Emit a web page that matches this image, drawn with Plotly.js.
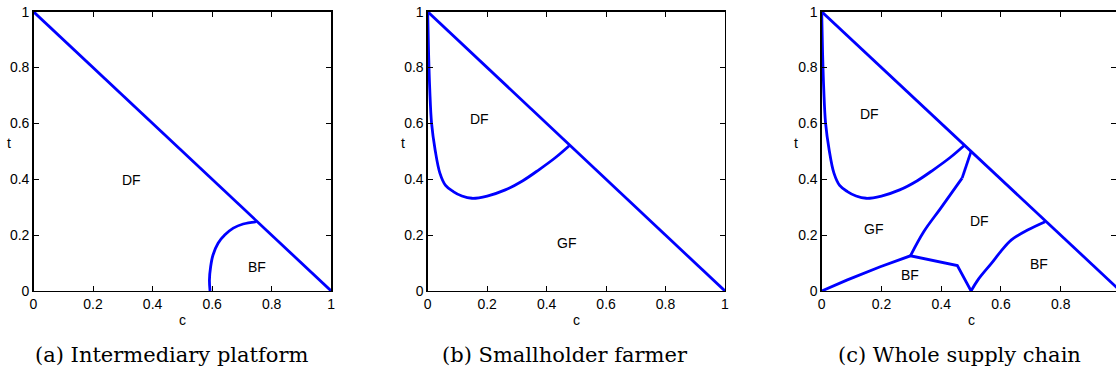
<!DOCTYPE html>
<html>
<head>
<meta charset="utf-8">
<script src="https://cdn.plot.ly/plotly-3.0.1.min.js"></script>
<style>
html,body{margin:0;padding:0;background:#fff;overflow:hidden;}
#chart{width:1116px;height:372px;}
</style>
</head>
<body>
<div id="chart"></div>
<script>
// ---- data ----
const diagC = [0, 1];
const diagT = [1, 0];

// (a) Intermediary platform: BF boundary
const aBfC = [0.593, 0.591, 0.595, 0.603, 0.620, 0.643, 0.671, 0.704, 0.749];
const aBfT = [0.000, 0.039, 0.087, 0.129, 0.171, 0.201, 0.225, 0.240, 0.248];

// (b) Smallholder farmer: DF / GF boundary
const bC = [0.000, 0.003, 0.007, 0.013, 0.025, 0.041, 0.060, 0.086, 0.115, 0.149, 0.200, 0.261, 0.320, 0.374, 0.430, 0.478];
const bT = [1.000, 0.850, 0.720, 0.601, 0.505, 0.422, 0.378, 0.356, 0.340, 0.332, 0.340, 0.362, 0.395, 0.434, 0.478, 0.522];

// (c) Whole supply chain
const cUpC = bC;
const cUpT = bT;
const cSegC = [0.500, 0.470];
const cSegT = [0.500, 0.404];
const cMidC = [0.470, 0.398, 0.342, 0.297];
const cMidT = [0.404, 0.296, 0.213, 0.126];
const cLowC = [0.000, 0.084, 0.196, 0.297, 0.454, 0.500];
const cLowT = [0.000, 0.039, 0.087, 0.126, 0.091, 0.000];
const cBfC = [0.500, 0.523, 0.568, 0.599, 0.635, 0.691, 0.748];
const cBfT = [0.000, 0.040, 0.099, 0.141, 0.183, 0.219, 0.248];

// region labels
const aLabels = ['DF', 'BF'];
const aLabC = [0.329, 0.750];
const aLabT = [0.398, 0.087];
const bLabels = ['DF', 'GF'];
const bLabC = [0.174, 0.466];
const bLabT = [0.615, 0.171];
const cLabels = ['DF', 'GF', 'DF', 'BF', 'BF'];
const cLabC = [0.159, 0.174, 0.529, 0.294, 0.727];
const cLabT = [0.634, 0.223, 0.251, 0.057, 0.097];

const captions = ['(a) Intermediary platform', '(b) Smallholder farmer', '(c) Whole supply chain'];
const tickVals = [0, 0.2, 0.4, 0.6, 0.8, 1];
const tickText = ['0', '0.2', '0.4', '0.6', '0.8', '1'];

// ---- layout helpers ----
const W = 1116, H = 372;
const yTop = 11.7, yBot = 291;
const panels = [
  {x0: 33.5, scale: 297.7},
  {x0: 427.7, scale: 297.3},
  {x0: 821.7, scale: 298.75}
];
const capX = [171.3, 565.3, 959];
const tX = [9, 402.7, 796.3];

const blue = '#0000ff';
function line(xs, ys, k, smooth) {
  const s = k === 0 ? '' : String(k + 1);
  return {x: xs, y: ys, type: 'scatter', mode: 'lines', xaxis: 'x' + s, yaxis: 'y' + s,
    line: {color: blue, width: 2.8, shape: smooth ? 'spline' : 'linear', smoothing: 1},
    hoverinfo: 'skip', showlegend: false, cliponaxis: true};
}

const data = [
  line(diagC, diagT, 0), line(aBfC, aBfT, 0, true),
  line(diagC, diagT, 1), line(bC, bT, 1, true),
  line(diagC, diagT, 2), line(cUpC, cUpT, 2, true), line(cSegC, cSegT, 2), line(cMidC, cMidT, 2, true),
  line(cLowC, cLowT, 2), line(cBfC, cBfT, 2, true)
];

const sans = 'Liberation Sans';
const tickFont = {family: sans, size: 14, color: '#000'};
const layout = {
  width: W, height: H,
  margin: {l: 0, r: 0, t: 0, b: 0, pad: 0},
  paper_bgcolor: '#fff', plot_bgcolor: '#fff',
  showlegend: false,
  annotations: []
};

panels.forEach((p, k) => {
  const s = k === 0 ? '' : String(k + 1);
  const xEnd = Math.min(p.x0 + p.scale, W);
  const xmax = (xEnd - p.x0) / p.scale;
  layout['xaxis' + s] = {
    domain: [p.x0 / W, xEnd / W], range: [0, xmax], anchor: 'y' + s,
    showgrid: false, zeroline: false, showline: true, mirror: 'ticks', linecolor: '#000', linewidth: 1.3,
    ticks: 'inside', ticklen: 5, tickwidth: 1, tickcolor: '#000',
    tickmode: 'array', tickvals: tickVals, ticktext: tickText, tickfont: tickFont, fixedrange: true
  };
  layout['yaxis' + s] = {
    domain: [(H - yBot) / H, (H - yTop) / H], range: [0, 1], anchor: 'x' + s,
    showgrid: false, zeroline: false, showline: true, mirror: 'ticks', linecolor: '#000', linewidth: 1.3,
    ticks: 'inside', ticklen: 5, tickwidth: 1, tickcolor: '#000',
    tickmode: 'array', tickvals: tickVals, ticktext: tickText, tickfont: tickFont, fixedrange: true
  };
  // axis titles
  layout.annotations.push({text: 'c', xref: 'paper', yref: 'paper', x: (p.x0 + 0.5 * p.scale) / W, y: (H - 320) / H,
    showarrow: false, xanchor: 'center', yanchor: 'middle', font: {family: sans, size: 14, color: '#000'}});
  layout.annotations.push({text: 't', xref: 'paper', yref: 'paper', x: tX[k] / W, y: (H - 143.3) / H,
    showarrow: false, xanchor: 'center', yanchor: 'middle', font: {family: sans, size: 14, color: '#000'}});
  // caption
  layout.annotations.push({text: captions[k], xref: 'paper', yref: 'paper', x: capX[k] / W, y: (H - 355) / H,
    showarrow: false, xanchor: 'center', yanchor: 'middle', font: {family: 'DejaVu Serif', size: 21, color: '#000'}});
});

function addLabels(labels, cs, ts, k) {
  const s = k === 0 ? '' : String(k + 1);
  labels.forEach((txt, i) => {
    layout.annotations.push({text: txt, xref: 'x' + s, yref: 'y' + s, x: cs[i], y: ts[i], showarrow: false,
      xanchor: 'center', yanchor: 'middle', font: {family: sans, size: 14, color: '#000'}});
  });
}
addLabels(aLabels, aLabC, aLabT, 0);
addLabels(bLabels, bLabC, bLabT, 1);
addLabels(cLabels, cLabC, cLabT, 2);

Plotly.newPlot('chart', data, layout, {staticPlot: true, displayModeBar: false});
</script>
</body>
</html>
